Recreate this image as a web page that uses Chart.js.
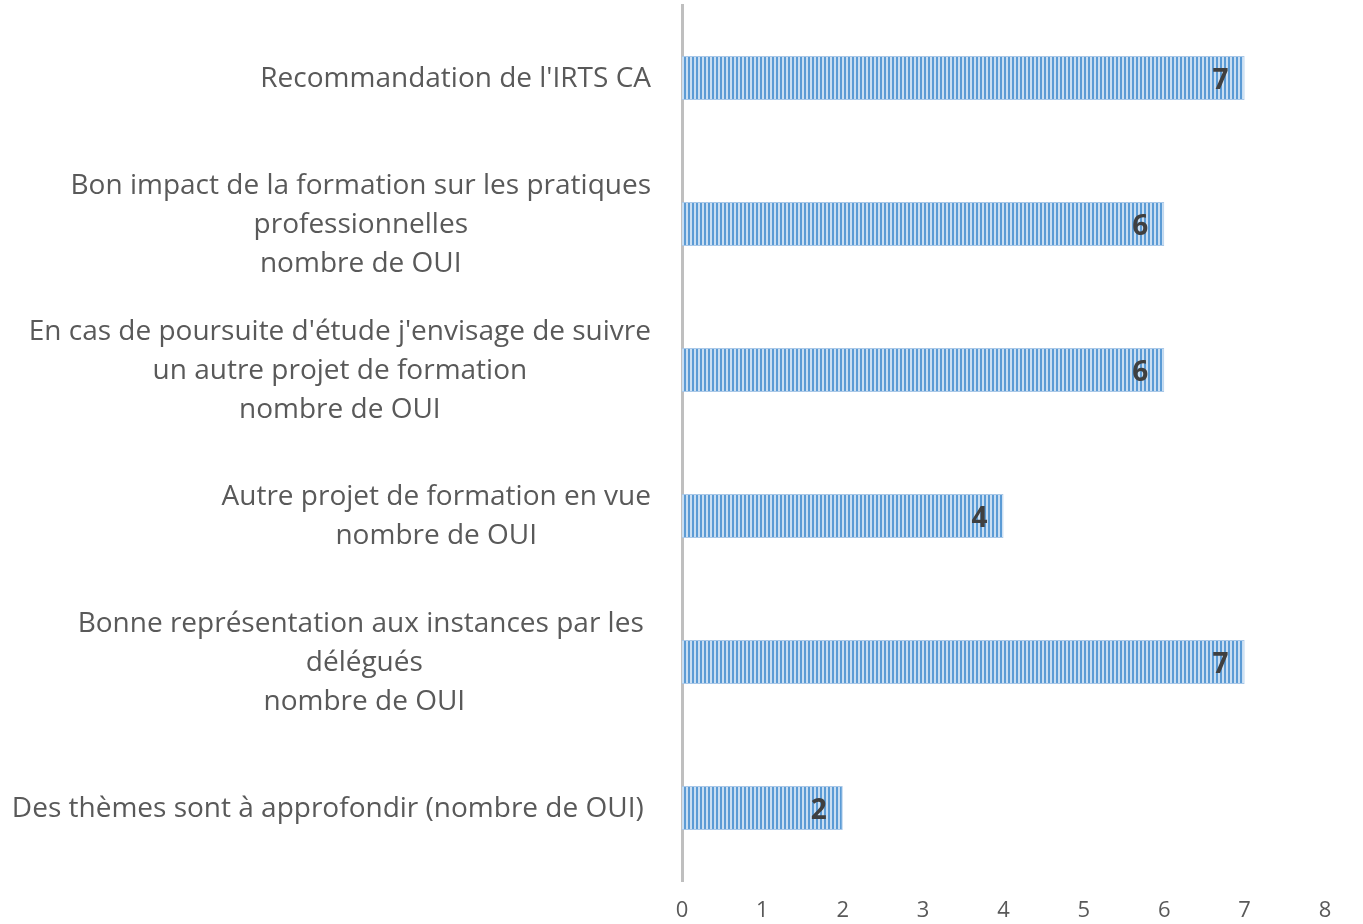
<!DOCTYPE html>
<html>
<head>
<meta charset="utf-8">
<script src="https://cdn.jsdelivr.net/npm/chart.js@4"></script>
<style>
  body { margin: 0; background: #fff; }
</style>
</head>
<body>
<canvas id="myChart" width="1363" height="924"></canvas>
<script>
// categories, top to bottom (each one split into its lines)
const categories = [
  ["Recommandation de l'IRTS CA"],
  ["Bon impact de la formation sur les pratiques", "professionnelles", "nombre de OUI"],
  ["En cas de poursuite d'étude j'envisage de suivre", "un autre projet de formation", "nombre de OUI"],
  ["Autre projet de formation en vue", "nombre de OUI"],
  ["Bonne représentation aux instances par les ", "délégués", "nombre de OUI"],
  ["Des thèmes sont à approfondir (nombre de OUI) "]
];
const values = [7, 6, 6, 4, 7, 2];
const xTicks = [0, 1, 2, 3, 4, 5, 6, 7, 8];

const labelFont = "'Open Sans'";
const labelColor = "#595959";

// striped fill like the excel pattern
function stripes() {
  const c = document.createElement("canvas");
  c.width = 4;
  c.height = 1;
  const g = c.getContext("2d");
  g.fillStyle = "#c9def2";
  g.fillRect(0, 0, 4, 1);
  g.fillStyle = "#5b9bd5";
  g.fillRect(0, 0, 2, 1);
  return g.createPattern(c, "repeat");
}

// y labels: widest line right aligned, the other lines centred on it
const yLabels = {
  id: "yLabels",
  afterDraw(chart) {
    const ctx = chart.ctx;
    const y = chart.scales.y;
    const rightX = 651;
    const lineH = 39;
    ctx.save();
    ctx.font = "28px " + labelFont;
    ctx.fillStyle = labelColor;
    ctx.textAlign = "center";
    ctx.textBaseline = "middle";
    categories.forEach(function (lines, i) {
      const maxW = Math.max(...lines.map(l => ctx.measureText(l).width));
      const cx = rightX - maxW / 2;
      const cy = y.getPixelForValue(i) + 1;
      const top = cy - (lines.length - 1) * lineH / 2;
      lines.forEach(function (l, j) {
        ctx.fillText(l, cx, top + j * lineH);
      });
    });
    ctx.restore();
  }
};

// value labels at the inside end of each bar
const valueLabels = {
  id: "valueLabels",
  afterDatasetsDraw(chart) {
    const ctx = chart.ctx;
    const meta = chart.getDatasetMeta(0);
    ctx.save();
    ctx.font = "bold 28px " + labelFont;
    ctx.fillStyle = "#404040";
    ctx.textAlign = "center";
    ctx.textBaseline = "middle";
    meta.data.forEach(function (bar, i) {
      ctx.fillText(values[i], bar.x - 24, bar.y + 3);
    });
    ctx.restore();
  }
};

const ctx = document.getElementById("myChart").getContext("2d");
const myChart = new Chart(ctx, {
  type: "bar",
  data: {
    labels: categories.map(l => l.join(" ")),
    datasets: [
      {
        data: values,
        backgroundColor: stripes(),
        borderColor: "#a9c8e8",
        borderWidth: 1,
        categoryPercentage: 1,
        barPercentage: 0.3,
      },
    ],
  },
  options: {
    indexAxis: "y",
    responsive: false,
    animation: false,
    layout: { padding: { top: 5, right: 38, left: 0, bottom: 0 } },
    plugins: {
      legend: { display: false },
      tooltip: { enabled: false },
    },
    scales: {
      x: {
        min: 0,
        max: 8,
        afterBuildTicks: function (scale) {
          scale.ticks = xTicks.map(v => ({ value: v }));
        },
        afterFit: function (scale) {
          scale.height = 43;
        },
        grid: { display: false, drawTicks: false },
        border: { display: false },
        ticks: {
          padding: 17,
          color: labelColor,
          font: { family: "Open Sans", size: 22 },
          maxRotation: 0,
        },
      },
      y: {
        afterFit: function (scale) {
          scale.width = 682;
        },
        grid: { display: false, drawTicks: false },
        border: { display: true, color: "#bfbfbf", width: 3 },
        ticks: { display: false },
      },
    },
  },
  plugins: [yLabels, valueLabels],
});
</script>
</body>
</html>
